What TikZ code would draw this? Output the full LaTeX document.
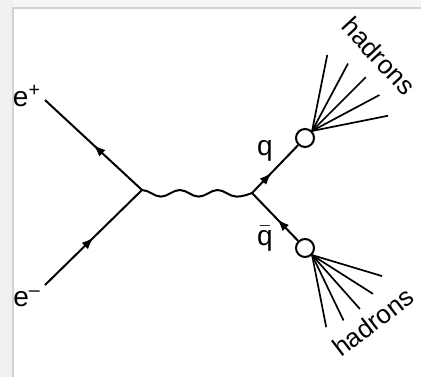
\documentclass[tikz,border=0pt]{standalone}
\usepackage{fontspec}
\setmainfont{Liberation Sans}
\usetikzlibrary{arrows.meta, decorations.markings}

\begin{document}
\begin{tikzpicture}[x=0.5pt, y=0.5pt,
    fermion/.style={line width=1pt, postaction={decorate},
        decoration={markings, mark=at position #1 with {\arrow{Latex[length=6pt,width=4.5pt]}}}},
    fermion/.default=0.5,
    photon/.style={line width=1pt},
    blob/.style={circle, draw, line width=1pt, fill=white, minimum size=9pt, inner sep=0pt},
    jet/.style={line width=0.85pt},
    tag/.style={font=\fontsize{14}{16}\selectfont, inner sep=1pt},
    hadtag/.style={font=\fontsize{13}{15}\selectfont, inner sep=0.5pt}
]
\useasboundingbox (0,0) rectangle (421,377);

% frame shadow
\fill[gray!12] (0,0) rectangle (13,377);
\fill[gray!8] (13,369) rectangle (421,377);
\draw[gray!35, line width=0.8pt] (13,0) -- (13,369) -- (421,369);

\coordinate (vin) at (142,187);
\coordinate (vout) at (252,184);
\coordinate (eplus) at (45,277);
\coordinate (eminus) at (45,92);
\node[blob] (qblob) at (305,239) {};
\node[blob] (qbblob) at (305,129) {};

\draw[fermion] (vin) -- (eplus);
\draw[fermion] (eminus) -- (vin);
\draw[photon] (vin)
  \foreach \i in {1,2} {cos ++(9.45,-3.3) sin ++(9.45,-3.3) cos ++(9.45,3.3) sin ++(9.45,3.3)}
  cos ++(9.45,-3.3) sin ++(9.45,-3.3) cos (vout);
\draw[fermion=0.42] (vout) -- (qblob);
\draw[fermion=0.45] (qbblob) -- (vout);

\foreach \a in {75,60,45,30,15}
  \draw[jet] (qblob.45) -- ([shift={(\a:86)}]qblob.center);
\foreach \a in {-75,-62,-48,-34,-20}
  \draw[jet] (qbblob.-45) -- ([shift={(\a:82)}]qbblob.center);

\node[tag] (eplab) at (27,281) {e\textsuperscript{+}};
\node[tag] (emlab) at (27,78) {e\textsuperscript{--}};
\node[tag] (qlab) at (265,226) {q};
\node[tag] (qblab) at (265,138) {$\bar{\mbox{q}}$};
\node[hadtag, rotate=-47] (uhad) at (379,321) {hadrons};
\node[hadtag, rotate=37.5] (lhad) at (373,55) {hadrons};

\end{tikzpicture}
\end{document}
